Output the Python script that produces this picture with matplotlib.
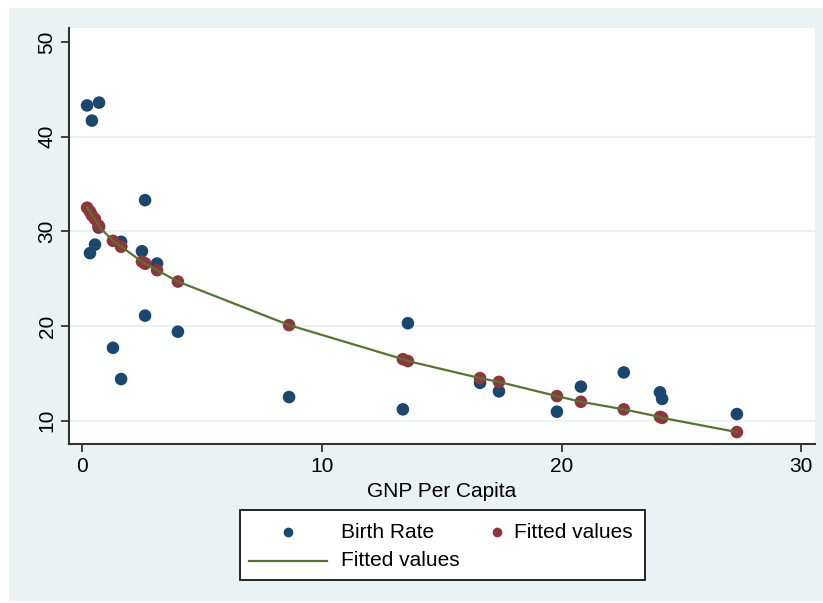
import matplotlib
matplotlib.use("Agg")
import matplotlib.pyplot as plt
from matplotlib.patches import Rectangle
from matplotlib.lines import Line2D
import numpy as np

plt.rcParams['font.family'] = ['Liberation Sans', 'DejaVu Sans']

# GNP per capita (x), observed birth rate, fitted values
gnp = [0.2, 0.32, 0.4, 0.53, 0.7, 0.68, 1.28, 1.62, 1.62, 2.49, 2.62, 2.62,
       3.12, 3.99, 8.63, 13.38, 13.59, 16.6, 17.39, 19.81, 20.81, 22.6,
       24.11, 24.2, 27.32]
birth_rate = [43.3, 27.7, 41.7, 28.6, 43.6, 30.4, 17.7, 28.9, 14.4, 27.9, 33.3, 21.1,
              26.6, 19.4, 12.5, 11.2, 20.3, 14.0, 13.1, 10.95, 13.6, 15.1,
              13.0, 12.3, 10.7]
fitted = [32.5, 32.1, 31.7, 31.3, 30.5, 30.6, 29.0, 28.4, 28.4, 26.8, 26.6, 26.6,
          25.9, 24.7, 20.1, 16.5, 16.3, 14.5, 14.1, 12.6, 12.0, 11.2,
          10.4, 10.3, 8.8]

xticks = [0, 10, 20, 30]
yticks = [10, 20, 30, 40, 50]
xlabel = "GNP Per Capita"
legend_labels = ["Birth Rate", "Fitted values", "Fitted values"]

BLUE = "#1A476F"
RED = "#90353B"
GREEN = "#55752F"
BG = "#EAF2F3"
AXC = "#333333"
FS = 15

W, H = 823, 603
fig = plt.figure(figsize=(W / 100, H / 100), dpi=100)
fig.patch.set_facecolor("white")
fig.add_artist(Rectangle((9 / W, 1 - 601 / H), (823 - 9) / W, (601 - 8) / H,
                         transform=fig.transFigure, facecolor=BG, edgecolor="none", zorder=0))

ax = fig.add_axes([69 / W, 1 - 444 / H, (815 - 69) / W, (444 - 28) / H])
ax.set_facecolor("white")
ax.set_zorder(1)

for yv in yticks[:-1]:
    ax.axhline(yv, color=BG, lw=1.5, zorder=0)

order = np.argsort(gnp, kind="stable")
xs = np.array(gnp)[order]
fs = np.array(fitted)[order]

ax.scatter(gnp, birth_rate, s=82, color=BLUE, edgecolors="none", zorder=3)
ax.scatter(gnp, fitted, s=82, color=RED, edgecolors="none", zorder=3)
ax.plot(xs, fs, color=GREEN, lw=1.6, zorder=4)

ax.set_xlim(-0.555, 30.58)
ax.set_ylim(7.54, 51.48)
ax.set_xticks(xticks)
ax.set_yticks(yticks)
ax.set_xticklabels([str(v) for v in xticks], fontsize=FS)
ax.set_yticklabels([str(v) for v in yticks], fontsize=FS, rotation=90, va="center")
ax.tick_params(direction="out", length=6, width=1.3, color=AXC, pad=3)
for s in ["top", "right"]:
    ax.spines[s].set_visible(False)
for s in ["left", "bottom"]:
    ax.spines[s].set_color(AXC)
    ax.spines[s].set_linewidth(1.5)
ax.set_xlabel(xlabel, fontsize=FS, labelpad=5)

# legend drawn manually
fig.add_artist(Rectangle((240 / W, 1 - 580 / H), (645 - 240) / W, (580 - 510) / H,
                         transform=fig.transFigure, facecolor="white", edgecolor="black",
                         lw=1.2, zorder=5))
r1 = 1 - 532 / H
r2 = 1 - 561 / H
fig.add_artist(Line2D([288 / W], [r1], marker="o", ms=7, color=BLUE, mec="none",
                      transform=fig.transFigure, zorder=6))
fig.text(341 / W, r1, legend_labels[0], fontsize=FS, va="center", ha="left", zorder=6)
fig.add_artist(Line2D([497 / W], [r1], marker="o", ms=7, color=RED, mec="none",
                      transform=fig.transFigure, zorder=6))
fig.text(514 / W, r1, legend_labels[1], fontsize=FS, va="center", ha="left", zorder=6)
fig.add_artist(Line2D([249 / W, 327 / W], [r2, r2], color=GREEN, lw=1.6,
                      transform=fig.transFigure, zorder=6))
fig.text(341 / W, r2, legend_labels[2], fontsize=FS, va="center", ha="left", zorder=6)

fig.savefig("out.png", dpi=100)
